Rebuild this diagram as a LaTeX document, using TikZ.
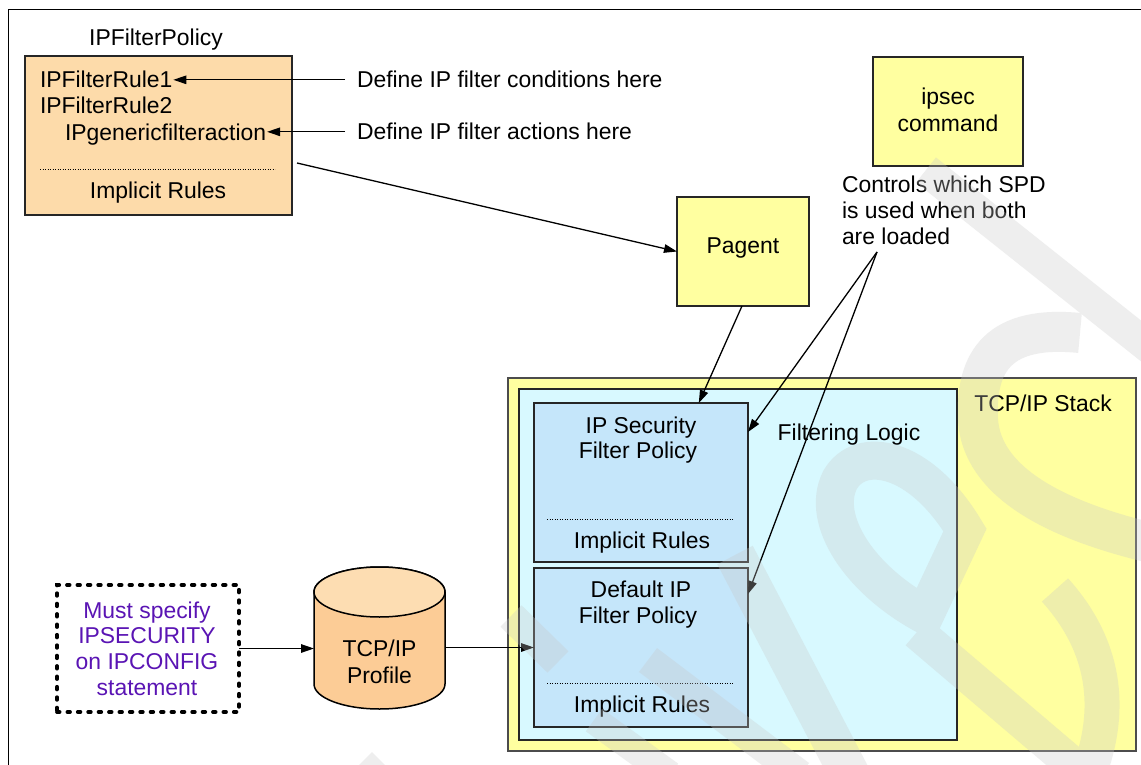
\documentclass[tikz,border=0pt]{standalone}
\usepackage{fontspec}
\setmainfont{Liberation Sans}
\usetikzlibrary{arrows.meta,calc}

\definecolor{peach}{RGB}{253,219,170}
\definecolor{cylbody}{RGB}{252,204,150}
\definecolor{cyltop}{RGB}{253,221,178}
\definecolor{paleyellow}{RGB}{255,255,160}
\definecolor{palecyan}{RGB}{216,249,255}
\definecolor{paleblue}{RGB}{197,230,250}
\definecolor{notepurple}{RGB}{90,20,180}
\definecolor{wmgray}{RGB}{200,200,200}

\tikzset{
  every node/.style={font=\fontsize{22.9}{26.5}\selectfont, inner sep=0pt, outer sep=0pt},
  line/.style={draw=black, line width=1.3pt},
  arr/.style={line, -{Triangle[length=13pt,width=8.5pt]}},
  box/.style={rectangle, draw=black!85, line width=1.6pt},
  sep/.style={line width=1pt, dash pattern=on 1.2pt off 1.3pt},
  note/.style={rectangle, draw=black, line width=3.8pt, line cap=round, dash pattern=on 2.6pt off 7.8pt},
  lbl/.style={anchor=base},
}

\begin{document}
\begin{tikzpicture}[x=1pt,y=-1pt]
\useasboundingbox (0,0) rectangle (1141,765);
\fill[white] (0,0) rectangle (1141,765);

% page frame
\draw[line width=1.5pt] (8.5,765) -- (8.5,9.5) -- (1141,9.5);

% IPFilterPolicy
\node[lbl] (policytitle) at (156,46) {IPFilterPolicy};
\node[box, fill=peach, minimum width=267pt, minimum height=159pt] (policy) at (158.5,135.5) {};
\node[anchor=base west, inner xsep=1pt] (rule1) at (39,88) {IPFilterRule1};
\node[anchor=base west, inner xsep=1pt] (rule2) at (39,114) {IPFilterRule2};
\node[anchor=base west, inner xsep=1pt] (action) at (64,141) {IPgenericfilteraction};
\draw[sep] (40,170) -- (275,170);
\node[lbl] (policyrules) at (158,199) {Implicit Rules};

% annotations on the policy
\node[anchor=base west] (conddef) at (357,88) {Define IP filter conditions here};
\node[anchor=base west] (actdef) at (357,140) {Define IP filter actions here};
\draw[arr] ($(conddef.west)+(-12,0)$) -- (conddef.west -| rule1.east);
\draw[arr] ($(actdef.west)+(-12,0)$) -- (actdef.west -| action.east);

% Pagent and ipsec command
\node[box, fill=paleyellow, minimum width=132pt, minimum height=109pt] (pagent) at (743,251.5) {};
\node[lbl] (pagentlabel) at (743,253) {Pagent};
\node[box, fill=paleyellow, minimum width=150pt, minimum height=109pt] (ipseccmd) at (948,111.5) {};
\node[lbl] (ipseclabel1) at (948,105) {ipsec};
\node[lbl] (ipseclabel2) at (948,132) {command};
\node[anchor=base west] (ctl1) at (842,193) {Controls which SPD};
\node[anchor=base west] (ctl2) at (842,218.5) {is used when both};
\node[anchor=base west] (ctl3) at (842,244) {are loaded};
\coordinate (loaded) at (877,252);

% TCP/IP stack
\node[rectangle, draw=black!70, line width=1.6pt, fill=paleyellow, minimum width=628pt, minimum height=373pt] (stack) at (822,564.5) {};
\node[lbl] (stacklabel) at (1043,411) {TCP/IP Stack};
\node[box, fill=palecyan, minimum width=438pt, minimum height=351pt] (filtering) at (738,564.5) {};
\node[lbl] (filterlabel) at (849,440) {Filtering Logic};

\node[box, fill=paleblue, minimum width=214pt, minimum height=159pt] (secpol) at (641,482.5) {};
\node[lbl] (seclabel1) at (641,433) {IP Security};
\node[lbl] (seclabel2) at (638,458) {Filter Policy};
\draw[sep] (547,519) -- (734,519);
\node[lbl] (secrules) at (642,548) {Implicit Rules};

\node[box, fill=paleblue, minimum width=214pt, minimum height=159pt] (defpol) at (641,647.5) {};
\node[lbl] (deflabel1) at (641,597) {Default IP};
\node[lbl] (deflabel2) at (638,623) {Filter Policy};
\draw[sep] (547,683) -- (734,683);
\node[lbl] (defrules) at (642,712) {Implicit Rules};

% IPCONFIG note and profile data set
\node[note, minimum width=182pt, minimum height=127pt] (must) at (148,648.5) {};
\begin{scope}[every node/.append style={text=notepurple}]
  \node[lbl] (must1) at (147,618) {Must specify};
  \node[lbl] (must2) at (147,643.5) {IPSECURITY};
  \node[lbl] (must3) at (147,669) {on IPCONFIG};
  \node[lbl] (must4) at (147,695) {statement};
\end{scope}

\filldraw[fill=cylbody, line width=1.5pt] (314,592) -- (314,684)
  arc[start angle=180, end angle=0, x radius=65.5, y radius=25] -- (445,592)
  arc[start angle=0, end angle=-180, x radius=65.5, y radius=25] -- cycle;
\filldraw[fill=cyltop, line width=1.5pt] (379.5,592) ellipse [x radius=65.5, y radius=25];
\node[minimum width=131pt, minimum height=142pt] (profile) at (379.5,638) {};
\node[lbl] (profile1) at (379.5,656) {TCP/IP};
\node[lbl] (profile2) at (379.5,683) {Profile};

% connectors
\draw[arr] ($(policy.east)+(5,27.5)$) -- (pagent.west);
\draw[arr] ($(pagent.south)+(-1,0)$) -- ($(secpol.north west)!0.77!(secpol.north east)$);
\draw[arr] (loaded) -- ($(secpol.north east)+(0,29)$);
\draw[arr] (loaded) -- ($(defpol.north east)+(0,26)$);
\draw[arr] (must.east) -- (must.east -| profile.west);
\draw[arr] (defpol.west -| profile.east) -- (defpol.west);

% faint background lettering laid over the page
\begin{scope}[transparency group, opacity=0.3]
  \clip (0,0) rectangle (1141,765);
  \begin{scope}[draw=wmgray, fill=wmgray, line cap=butt]
    \draw[line width=32pt] (926,170) -- (1165,360);
    \draw[line width=40pt] (1080,333) .. controls (1000,325) and (975,360) .. (978,420)
      .. controls (982,480) and (1050,520) .. (1160,545);
    \draw[line width=38pt] (925,615) .. controls (860,580) and (820,520) .. (840,480)
      .. controls (860,445) and (920,455) .. (965,530) -- cycle;
    \draw[line width=35pt] (917,632) -- (1085,775);
    \draw[line width=40pt] (735,555) -- (850,775);
    \draw[line width=30pt] (511,616) -- (558,662);
    \draw[line width=30pt] (648,660) -- (800,775);
    \draw[line width=28pt] (594,720) -- (670,775);
    \fill (372,752) -- (400,780) -- (344,780) -- cycle;
    \draw[line width=35pt] (1055,590) .. controls (1100,640) and (1115,700) .. (1090,770);
  \end{scope}
\end{scope}
\end{tikzpicture}
\end{document}
